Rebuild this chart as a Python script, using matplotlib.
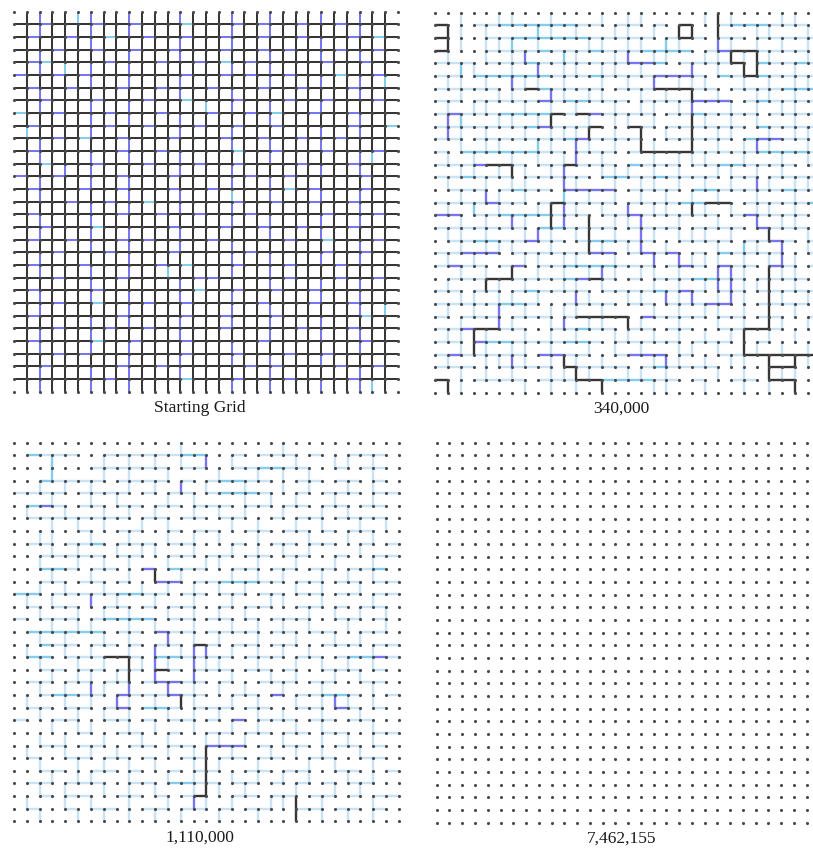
import matplotlib
matplotlib.use('Agg')
import numpy as np
import matplotlib.pyplot as plt
from matplotlib.collections import LineCollection

N = 31  # lattice nodes per side
W, H = 813, 848

# edge codes: '.' none, 'f' faint, 'c' cyan, 'p' blue, 'k' black
COLORS = {'f': '#c8e2f6', 'c': '#84cdef', 'p': '#7676f2', 'k': '#363636'}

titles = ['Starting Grid', '340,000', '1,110,000', '7,462,155']

# ---- starting grid: horizontal edges of rows 1..29, vertical edges (interior columns) per row gap
start_h = [
    "kkpkk kpkkp kkkck kkpkp kkpkk pkkkk",
    "kpkkp kkckk pkkpk kpkkp kkpkk kpkck",
    "kkkpk kpkkp kkpkk kpkkp kpkkk pkkpk",
    "kpckk kkpkk kpkkp kckpk kkkkp kkpkk",
    "pkkpk pkkkk kkkpk kpkpk kpkkk ckkpk",
    "kpkkp kkkpk kpkkk pkkkp kkpkk kpkkk",
    "kkpkk kpkkk pkkck kkpkk kpkkp kkkpk",
    "ckkpk kkpkk kpkkk pkkpk ckkpk kpkkk",
    "kpkkk kkpkk pkkkp kkpkk pkkkk kpkkc",
    "kkkpk ckkpk kkpkk kpkkp kkpkk pkkkk",
    "kpkkk kkkpk kpkkk kkckk pkkkp kkkpk",
    "kkckk kpkkk pkkkp kkpkk kkpkk kpkkk",
    "pkkpk kkkpk kkpkk kkkpk kpkkk kkpkk",
    "kpkkk pkkpk kkpkk pkkkk kckpk kkpkk",
    "kkkkp kkpkk ckkkk kkpkk pkkpk kpkkk",
    "kpkkk kkkpk kpkkp kkkpk kkkkp kkkpk",
    "kkpkk kckkk kkpkk kpkkp kkpkk kpkkk",
    "kpkkp kkkpk pkkkk pkkkk kpkkc kkkpk",
    "kkkpk kkpkk kkpkk kkkpk kkkkp kkpkk",
    "kpkkk pkkkk kpkck kkpkk kpkkk pkkkk",
    "kkkpk kkkpk kkkkp pkkkk kpkkk pkkpk",
    "kpkkk kpkkk kkkkc kkpkk pkkpk kkkkk",
    "kkkpk kckkk pkkpk kkkkp kkkpk kpkkk",
    "kpkkk kkkpk kkkpk kpkkk pkkkk kkckk",
    "kkkpk kkpkk pkkkk kpkkk kkpkk kpkkk",
    "kpkkk kckkp kkkpk kkkkp kkkkk kkpkk",
    "kkkpk pkkkk kkkpk kkpkk kpkkp kkkkk",
    "kkpkk kkkpk kpkkk kkkpk pkkkk pkkpk",
    "kkkkk kkpkk kkkck kkpkk kpkkk kpkkk",
]
start_v = [
    "kpkkc pkkpk kkpkk kpkkp kkkpk kpkk",
    "kpkkk pkkpk kkkkk kpkkp kkkkk kpkk",
    "kkkkk pkkkk kkpkk kpkkk kkkpk kkkk",
    "kpkkk kkkpk kkpkk kkkkp kkkpk kpkk",
    "kpkck pkkpk kkkkk kpkkp kkkkk kkkk",
    "kkkkk pkkpk kkpkk kkkkp kkkpk kpkc",
    "kpkkk kkkkk kkpkk kpkkk kkkkk kpkk",
    "kpkkk pkkpk kkkkc kpkkp kkkpk kkkk",
    "kkkkk pkkpk kkpkk kkkkp kkkkk kpkk",
    "ckkkk pkkkk kkpkk kpkkk kkkpk kpkk",
    "kpkkk kkkpk kkkkk kpkkp kkkpk kkkk",
    "kpkkk pkkpk kkpkk kkkkp kkkkk kpck",
    "kkkpk pkkkk kkpkk kpkkk kkkpk kpkk",
    "kpkkk pkkpk kkkkk kpkkp kkkkk kkkk",
    "kpkkk kkkpk kkpkk kckkp kkkpk kpkk",
    "kkkkk pkkpk kkpkk kpkkk kkkkk kpkk",
    "kpkkk pkkkk kkkkk kpkkp kkkpk kpkk",
    "kpkkk pkkpk kkpkk kkkkp kkkpk kkkk",
    "kkkkk pkkpk kkpkk kpkkk kkkkk kpkk",
    "kpkkk kkkpk kkkkk kpkkp kkkpk kpkk",
    "kpkkk pkkpk kckkk kpkkp kkkkk kkkk",
    "kkkkk pkkkk kkpkk kkkkp kkkpk kpkk",
    "kpkkk pkkpk kkpkk kpkkk kkkpk kpkk",
    "kpkkk kkkpk kkkkk kpkkp kkkkk kpkc",
    "kkkkk pkkpk kkpkk kpkkp kkkpk kkkk",
    "kpkkk pkkkk kkpkk kkkkp kkkpk kpkk",
    "kpkkk pkkpk kkkkk kpkkk kkkkk kpkk",
    "kkkkk kkkpk kkpkk kpkkp kkkpk kkkk",
    "kpkkk pkkpk kkpkk kkkkp kkkkk kpkk",
    "kpkkk pkkpk kkkkk kpkkp kkkpk kpck",
]

# ---- after 340,000 steps
mid_h = [
    "...ff ccccc cff.f f.f.f ..fcc cfff.",
    "....f fcccc ccfff ff.ff f.ff. fffff",
    "f...f fffcf ffcff fcccc .ffff ffff.",
    "fff.f ffcff fffff fcc.f ffff. cffcf",
    "ff.cc ccccf ffcff ff.ff f.cff cffff",
    "fffff .fccf fff.f fffff ff.ff ffccc",
    "ff.ff fffff ccfff .ffff .ff.f cffff",
    "f.fff ccccf ff.ff ff.ff cffff .ffff",
    "fffff ffccf fff.. ff.ff ffff. cffff",
    "ff.ff fffff cffff f..ff fff.c ffff.",
    "f.ccc cccff .fff. ff..f fffff ccccf",
    "fffff ff.ff ffff. cfff. ffccf fff.f",
    "ffcff f.fff ff.cc ffcff ff.ff .ffff",
    ".fff. fcff. ffff. ffff. ccfff ffcff",
    "ffff. ff.ff ffff. ffffc cc..f ffffc",
    "f..ff ccccf ff.ff .ffff ff.ff ffff.",
    "fffff ff.cc ffff. ffff. ffff. cfff.",
    ".ffcc ff.ff .fccf ff..f fff.f fff.f",
    "fffff .ffff fff.. ffff. f.cff ff..f",
    "ffff. ff.ff ccccf ff.ff f.fff .ff.f",
    ".fffc cffff cccf. f.fff ccff. ffff.",
    "ff.ff .fcff ff.ff ffcff f.ff. fffff",
    "fffff ccf.. ffff. ff.ff fff.. ffff.",
    "f.fff .fff. f.fff .ffff f.ff. ff..f",
    "fffff ff..f fcff. ff.ff ..ff. .f...",
    "ff.fc cffff ccf.f ffff. fff.. f....",
    "f.fff ff..f ff..f fff.f ..fff f....",
    "fff.. ffff. cffff .fcff ff... .f...",
    "f..ff ff.ff ff.cc ccff. f..ff .....",
]
mid_v = [
    ".f..f f..f. ..f.f f.... f.f.. .ff.",
    "ff.f. ..cf. f..ff .f.f. .f..f f..f",
    ".f.ff c.f.. .ff.f f.cf. ..f.f .f.f",
    "f..f. ff..c f..f. .ff.. ff.f. f..f",
    ".cf.. f.f.f f.ff. f...f .f.ff ..f.",
    "ff.f. .ff.f ..f.f .f.ff f..f. f.ff",
    ".f..f f..cf .ff.. f.f.f .f..f f.f.",
    "f.ff. .f.f. f..f. ff.f. ..f.f .ff.",
    ".c..f f.f.. .f.ff .f..f f.f.f ..f.",
    "ff.f. .f.ff f..f. f.f.f .ff.. f.ff",
    ".f.ff ..cf. .f.f. ff..f .f.f. f..f",
    "f.f.. f.f.f f.f.. .f.ff f..f. .f.f",
    ".ff.f .f.f. ..fff .f.f. .ff.f .f..",
    "f..f. ff..f f..f. ff.f. f.f.. f.ff",
    ".f.ff .f..c .f.f. f.f.f .f..f ..f.",
    "f.c.f ..f.f f.f.. .ff.f f.f.f f.f.",
    ".f.f. ff.f. .f.ff f..f. .f..f .ff.",
    "ff.f. .f.f. f..f. .f.ff f.f.. f..f",
    ".f.ff f..f. .ff.f f.f.. .f.cf .f.f",
    "f.f.. .ff.f f..f. .f..f ff.f. f.f.",
    ".f.f. f.f.f .f.f. ff.f. .f.f. .ff.",
    "f..ff .f..f f.f.. .f.f. f..ff f.f.",
    ".ff.f f.f.. .f..f f.ff. .f.f. .f.f",
    "f.f.. .f.ff f.f.. .f.f. ff.f. f.f.",
    ".f..f f..f. .ff.f f..f. .f.f. ff.f",
    "ff.f. .f.f. f..ff .f.f. f.f.. f.f.",
    ".f.f. ff.f. .f.f. f..ff .f..f .f.f",
    "f..ff .f.f. f.f.. .f.f. f.ff. f..f",
    ".f.f. f..ff .f..f f.f.. .f.f. .ff.",
    "ff... .f.f. f.f.. .ff.. f..f. f.f.",
]
# runs of edges: ('h', row, col_from, col_to) or ('v', col, row_from, row_to)
mid_black = [
    ('h', 1, 0, 1), ('h', 2, 0, 1), ('h', 3, 0, 1), ('h', 1, 19, 20), ('h', 2, 19, 20),
    ('h', 3, 23, 25), ('h', 4, 23, 24), ('h', 5, 24, 25), ('h', 6, 17, 20), ('h', 9, 15, 16),
    ('h', 11, 16, 20), ('h', 6, 7, 8), ('h', 8, 9, 10), ('h', 8, 11, 12), ('h', 9, 12, 13),
    ('h', 12, 4, 6), ('h', 12, 10, 11), ('h', 15, 9, 10), ('h', 21, 4, 6), ('h', 21, 12, 13),
    ('h', 24, 11, 15), ('h', 25, 3, 5), ('h', 28, 10, 11), ('h', 29, 11, 13), ('h', 29, 0, 1),
    ('h', 15, 21, 23), ('h', 25, 24, 26), ('h', 27, 24, 30), ('h', 28, 26, 28), ('h', 29, 26, 28),
    ('v', 1, 1, 3), ('v', 19, 1, 2), ('v', 20, 1, 2), ('v', 22, 0, 2), ('v', 23, 3, 4),
    ('v', 24, 4, 5), ('v', 25, 3, 5), ('v', 20, 6, 7), ('v', 16, 9, 11), ('v', 20, 8, 11),
    ('v', 9, 8, 9), ('v', 12, 9, 10), ('v', 6, 12, 13), ('v', 9, 15, 17), ('v', 12, 16, 19),
    ('v', 6, 20, 21), ('v', 4, 21, 22), ('v', 3, 25, 27), ('v', 10, 27, 28), ('v', 11, 28, 29),
    ('v', 13, 29, 30), ('v', 1, 29, 30), ('v', 20, 15, 16), ('v', 26, 17, 18), ('v', 26, 20, 25),
    ('v', 24, 25, 27), ('v', 26, 27, 29), ('v', 28, 27, 28), ('v', 28, 29, 30), ('v', 15, 24, 25),
]
mid_blue = [
    ('h', 3, 22, 23), ('h', 4, 15, 17), ('h', 5, 17, 20), ('h', 7, 20, 23), ('h', 10, 25, 27),
    ('h', 7, 8, 9), ('h', 8, 1, 2), ('h', 9, 8, 9), ('h', 8, 12, 13), ('h', 10, 11, 12),
    ('h', 12, 3, 4), ('h', 14, 10, 14), ('h', 15, 4, 5), ('h', 16, 0, 2), ('h', 18, 7, 8),
    ('h', 19, 2, 5), ('h', 19, 12, 14), ('h', 20, 1, 2), ('h', 20, 6, 7), ('h', 21, 11, 12),
    ('h', 26, 3, 4), ('h', 25, 2, 3), ('h', 27, 1, 2), ('h', 27, 8, 10), ('h', 16, 24, 25),
    ('h', 17, 25, 26), ('h', 18, 26, 27), ('h', 20, 26, 27), ('h', 16, 15, 16), ('h', 19, 16, 17),
    ('h', 19, 18, 19), ('h', 20, 19, 20), ('h', 20, 22, 23), ('h', 23, 21, 23), ('h', 22, 19, 20),
    ('h', 24, 16, 17), ('h', 27, 15, 18),
    ('v', 22, 2, 3), ('v', 15, 3, 4), ('v', 20, 4, 5), ('v', 17, 5, 6), ('v', 20, 7, 8),
    ('v', 25, 10, 11), ('v', 25, 13, 14), ('v', 7, 3, 4), ('v', 8, 4, 5), ('v', 6, 5, 6),
    ('v', 9, 6, 7), ('v', 1, 8, 10), ('v', 11, 10, 12), ('v', 10, 12, 14), ('v', 4, 14, 15),
    ('v', 10, 15, 17), ('v', 8, 17, 18), ('v', 6, 16, 17), ('v', 13, 20, 21), ('v', 11, 22, 23),
    ('v', 5, 23, 25), ('v', 10, 24, 25), ('v', 6, 27, 28), ('v', 25, 16, 17), ('v', 27, 18, 20),
    ('v', 15, 15, 16), ('v', 16, 16, 19), ('v', 17, 19, 20), ('v', 19, 19, 20), ('v', 22, 20, 22),
    ('v', 23, 20, 23), ('v', 20, 22, 23), ('v', 18, 22, 23), ('v', 18, 27, 28),
]

# ---- after 1,110,000 steps
late_h = [
    ".cfff ..fff fffcc ..f.f ff.f. .fff.",
    "..... .ffff ff.ff ..ffc cff.. f.ff.",
    "..cff ff.ff ff.f. fccff ..ff. ff.f.",
    "ffff. ffff. f.ff. fcccf ..f.f ff.ff",
    ".cff. ff.ff .ff.f ff.ff .ff.f f.ff.",
    ".ffff ffff. ff.ff .ff.. f.ff. ffff.",
    "..... f..ff ..f.f f..ff .ff.f .ff..",
    ".ff.f fc.ff f.ff. ..f.. ff.ff ..f.f",
    "..fff ff.ff ..ff. ff.ff .ff.. f..ff",
    "..ccf .ff.. f.cff ..ff. ff.ff .ffc.",
    "..ff. ff.f. .f..f fcccf f.ff. ff.ff",
    "cc.ff fffcc ff.ff .ff.f f.ff. ff.ff",
    ".f.ff ..ff. f.ff. .f.ff ..ff. f.ff.",
    "f.fff .fccc c.ff. ff.f. fff.. ff.f.",
    ".cccc cc.ff ..ff. ffff. ff.ff ..ff.",
    "..cff .ff.f .ff.. f.ff. ff..f ff.ff",
    ".cc.f ff.ff .ccff ff.ff f.ff. fcc.f",
    "..ff. ff.ff .ff.f ff.ff .f..f ff.f.",
    ".ff.f f.ff. f.fff .f..f ff.ff ..ff.",
    "..fcc ff.ff ff.ff ..ff. f.ffc cf..f",
    ".ff.f f.ff. ccf.f ff.ff ..ff. ff.f.",
    "f..ff ..ff. f.ff. f.f.f ff.ff .ff..",
    "..... f..ff ..f.. ff.ff .ff.f f..ff",
    "..ff. ff..f f.ff. ..f.f .ff.. ff.f.",
    ".f..f f.ff. f..ff .ff.f f..ff ..ff.",
    "..ff. .ff.f ..f.f f..ff .ff.. ff..f",
    ".ff.f ff..f f.ccf f.ff. f.f.f .ff..",
    "..f.f f..ff .f.ff ..ff. ff.ff .f.ff",
    ".f..f .ff.. ff.ff .f.ff ..ff. ff.f.",
]
late_v = [
    "..... ..... ..f.. ..... f.... ....",
    "..c.. .f.f. f.f.. .f... .f..f f.f.",
    "..c.. .f.f. .f... f..f. f.f.. ..f.",
    ".f.f. f..f. f.f.f ..f.. f.f.. f.f.",
    "..f.. f.f.. .f.f. ..f.f .f..f ..f.",
    "f..f. .f.f. f..f. f.f.. f..f. f...",
    "..f.f .f..f .f... .f.f. .f.f. .f.f",
    ".ff.. f..f. .f.f. f..f. ..f.. f.f.",
    "..f.f ..f.f f..f. .f.f. f.f.. .f..",
    ".f..f .f.f. .f..f f..f. .f..f ..f.",
    "..f.. f..f. f.f.. .f.f. f..f. f.f.",
    ".f.f. .f..f .f.f. f.f.. .f.f. .f..",
    "f.f.. f.f.. f..f. .f..f f..f. ..f.",
    ".f..f .f.f. .f.f. f.f.. ..f.f .f.f",
    "..f.f f..f. f..f. .f.f. f.f.. f..f",
    ".f.f. .f.f. .f.f. f..f. .f..f .f..",
    "f..f. f..f. f.f.. .f.f. f.f.. ..f.",
    ".f..f .f..f .f..f f..f. .f.f. f.f.",
    "..f.f f.f.. f..f. .f..f .f..f .f..",
    ".f.f. .f.f. .f.f. f.f.. f..f. ..f.",
    "f..f. f..f. f..f. .f.f. .f.f. f.f.",
    ".f..f .f.f. .f.f. f..f. f..f. .f..",
    "..f.f f..f. f..f. .f.f. .f.f. ..f.",
    ".f.f. .f..f .f..f f.f.. f..f. f.f.",
    "f..f. f.f.. .f.f. .f..f .f.f. .f..",
    ".f..f .f.f. f..f. f..f. ..f.f ..f.",
    "..f.f f..f. .f.f. .f.f. f.f.. f.f.",
    ".f.f. .f.f. f..f. f.f.. .f..f .f..",
    "f..f. f..f. .f..f .f..f f..f. ..f.",
    ".f..f .f.f. f.f.. f..f. .f.f. f.f.",
]
late_black = [
    ('h', 18, 11, 12), ('h', 16, 14, 15), ('h', 17, 7, 9), ('h', 28, 14, 15),
    ('v', 11, 10, 11), ('v', 13, 20, 21), ('v', 9, 17, 19), ('v', 15, 24, 28), ('v', 22, 28, 30),
]
late_blue = [
    ('h', 5, 2, 3), ('h', 10, 10, 11), ('h', 11, 11, 13), ('h', 15, 11, 12), ('h', 19, 11, 13),
    ('h', 20, 12, 13), ('h', 20, 8, 9), ('h', 21, 8, 9), ('h', 17, 28, 29), ('h', 20, 20, 21),
    ('h', 21, 25, 26), ('h', 22, 17, 18), ('h', 24, 15, 18),
    ('v', 15, 1, 2), ('v', 13, 3, 4), ('v', 6, 12, 13), ('v', 12, 15, 16), ('v', 11, 16, 19),
    ('v', 14, 16, 19), ('v', 12, 19, 20), ('v', 9, 19, 20), ('v', 8, 20, 21), ('v', 6, 19, 20),
    ('v', 14, 28, 29), ('v', 15, 16, 17), ('v', 25, 20, 21),
]


def edge_grid(h_rows, v_rows, black=(), blue=()):
    h = [list('.' * (N - 1))] + [list(r.replace(' ', '')) for r in h_rows] + [list('.' * (N - 1))]
    v = [list('.' + r.replace(' ', '') + '.') for r in v_rows]
    assert len(h) == N and all(len(r) == N - 1 for r in h)
    assert len(v) == N - 1 and all(len(r) == N for r in v)
    for code, runs in (('p', blue), ('k', black)):
        for kind, line, a, b in runs:
            for i in range(a, b):
                if kind == 'h':
                    h[line][i] = code
                else:
                    v[i][line] = code
    return h, v


def draw_panel(ax, grid, lw=1.6):
    if grid is not None:
        h, v = grid
        segs = {k: [] for k in COLORS}
        for r, row in enumerate(h):
            for c, s in enumerate(row):
                if s in segs:
                    segs[s].append([(c, r), (c + 1, r)])
        for r, row in enumerate(v):
            for c, s in enumerate(row):
                if s in segs:
                    segs[s].append([(c, r), (c, r + 1)])
        for key in 'fcpk':
            ax.add_collection(LineCollection(segs[key], colors=COLORS[key],
                                             linewidths=lw, capstyle='butt'))
    xs, ys = np.meshgrid(np.arange(N), np.arange(N))
    ax.scatter(xs.ravel(), ys.ravel(), s=5, color='#4a4a4a', linewidths=0, zorder=5)
    ax.set_xlim(-0.5, N - 0.5)
    ax.set_ylim(N - 0.5, -0.5)
    ax.axis('off')


fig = plt.figure(figsize=(W / 100, H / 100), dpi=100)

# pixel placement of node (0,0) and node spacing for each panel
layout = [(14, 12.8, 11.7, 12.67), (435, 12.86, 12.7, 12.67),
          (14, 12.83, 442.7, 12.62), (436.7, 12.76, 442.7, 12.67)]
grids = [edge_grid(start_h, start_v),
         edge_grid(mid_h, mid_v, mid_black, mid_blue),
         edge_grid(late_h, late_v, late_black, late_blue),
         None]
widths = [1.45, 1.7, 1.7, 1.7]

for (x0, dx, y0, dy), grid, lw, title in zip(layout, grids, widths, titles):
    ax = fig.add_axes([(x0 - 0.5 * dx) / W, 1 - (y0 + (N - 0.5) * dy) / H,
                       N * dx / W, N * dy / H])
    draw_panel(ax, grid, lw)
    cx = (x0 + 14.5 * dx) / W
    cy = 1 - (y0 + 30 * dy + 16) / H
    fig.text(cx, cy, title, ha='center', va='center', fontsize=12.5,
             family='Liberation Serif', color='#1a1a1a')

fig.savefig('out.png', dpi=100, facecolor='white')
